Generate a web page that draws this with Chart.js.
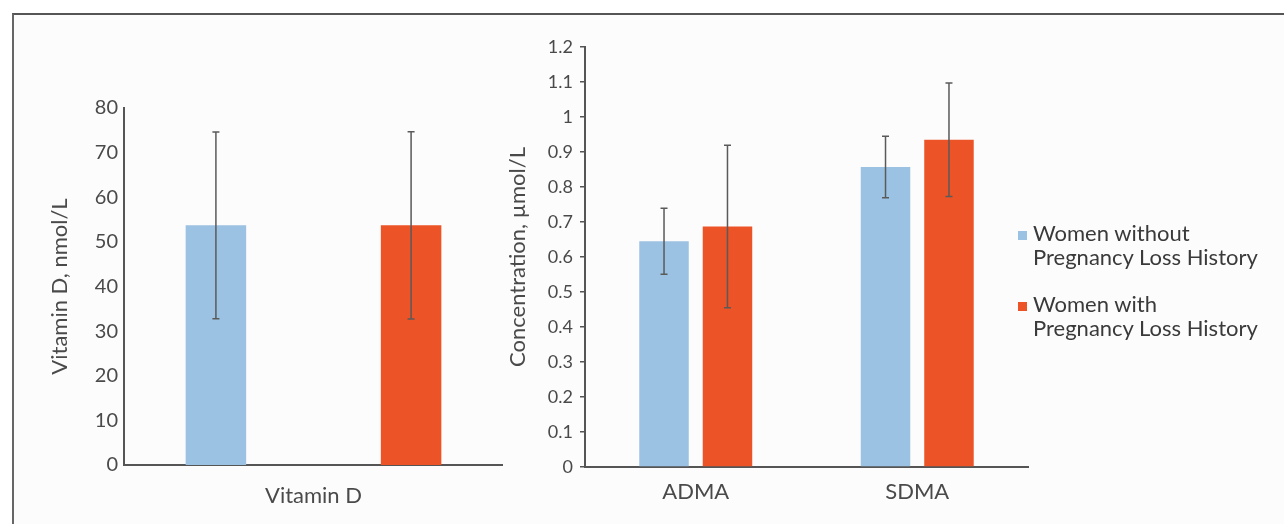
<!DOCTYPE html>
<html>
<head>
<meta charset="utf-8">
<script src="https://cdn.jsdelivr.net/npm/chart.js@4"></script>
<style>
  html, body { margin: 0; padding: 0; background: #fff; }
  body { width: 1284px; height: 524px; position: relative; overflow: hidden; font-family: Lato, sans-serif; }
  .frame { position: absolute; left: 12px; top: 13px; width: 1300px; height: 540px;
           border-top: 2px solid #555; border-left: 2px solid #666; background: #fcfcfc; }
  canvas { position: absolute; top: 0; }
  #vitd { left: 0; }
  #markers { left: 500px; }
  .legend { position: absolute; left: 1018px; color: #3a3a3a; font-size: 22px; line-height: 24px; }
  .legend .item { position: absolute; left: 0; white-space: nowrap; }
  .legend .box { position: absolute; left: 0; top: 10px; width: 9px; height: 9px; }
  .legend .txt { position: absolute; left: 15px; top: 0; }
</style>
</head>
<body>
<div class="frame"></div>
<canvas id="vitd" width="503" height="524"></canvas>
<canvas id="markers" width="540" height="524"></canvas>
<div class="legend" id="legend"></div>
<script>
// series
const seriesNames = [['Women without', 'Pregnancy Loss History'], ['Women with', 'Pregnancy Loss History']];
const seriesColors = ['#9cc2e3', '#ec5427'];

// left panel: vitamin D, nmol/L
const vitdLabels = ['Vitamin D'];
const vitdWithout = [53.7];
const vitdWithoutErr = [20.9];
const vitdWith = [53.7];
const vitdWithErr = [21.0];

// right panel: concentration, umol/L
const markerLabels = ['ADMA', 'SDMA'];
const markerWithout = [0.645, 0.857];
const markerWithoutErr = [0.094, 0.088];
const markerWith = [0.687, 0.935];
const markerWithErr = [0.232, 0.162];

const axisColor = '#555';
const textColor = '#4a4a4a';

// draws +/- error whiskers on every bar
const errorBars = {
  id: 'errorBars',
  afterDatasetsDraw(chart) {
    const ctx = chart.ctx;
    const y = chart.scales.y;
    ctx.save();
    ctx.strokeStyle = '#5a5a5a';
    ctx.lineWidth = 1.5;
    chart.data.datasets.forEach((ds, i) => {
      chart.getDatasetMeta(i).data.forEach((bar, j) => {
        const v = ds.data[j], e = ds.errors[j];
        const top = y.getPixelForValue(v + e);
        const bot = y.getPixelForValue(v - e);
        ctx.beginPath();
        ctx.moveTo(bar.x, top); ctx.lineTo(bar.x, bot);
        ctx.moveTo(bar.x - 3.5, top); ctx.lineTo(bar.x + 3.5, top);
        ctx.moveTo(bar.x - 3.5, bot); ctx.lineTo(bar.x + 3.5, bot);
        ctx.stroke();
      });
    });
    ctx.restore();
  }
};

function makeDatasets(a, aErr, b, bErr, catPct, barPct) {
  return [
    { label: seriesNames[0].join(' '), data: a, errors: aErr, backgroundColor: seriesColors[0],
      categoryPercentage: catPct, barPercentage: barPct },
    { label: seriesNames[1].join(' '), data: b, errors: bErr, backgroundColor: seriesColors[1],
      categoryPercentage: catPct, barPercentage: barPct }
  ];
}

new Chart(document.getElementById('vitd'), {
  type: 'bar',
  data: { labels: vitdLabels, datasets: makeDatasets(vitdWithout, vitdWithoutErr, vitdWith, vitdWithErr, 1.03, 0.31) },
  options: {
    responsive: false,
    animation: false,
    layout: { padding: { top: 108, left: 0, right: 0, bottom: 0 } },
    plugins: { legend: { display: false }, tooltip: { enabled: false } },
    scales: {
      x: {
        grid: { display: false, drawTicks: false },
        border: { color: axisColor, width: 2 },
        ticks: { color: textColor, font: { family: 'Lato', size: 22 }, padding: 18 },
        afterFit(s) { s.height = 59; }
      },
      y: {
        min: 0, max: 80,
        grid: { display: false, drawTicks: false },
        border: { color: axisColor, width: 2 },
        ticks: { stepSize: 10, color: textColor, font: { family: 'Lato', size: 20 }, padding: 6 },
        title: { display: true, text: 'Vitamin D, nmol/L', color: textColor,
                 font: { family: 'Lato', size: 22 }, padding: { top: 47, bottom: 0 } },
        afterFit(s) { s.width = 124; }
      }
    }
  },
  plugins: [errorBars]
});

new Chart(document.getElementById('markers'), {
  type: 'bar',
  data: { labels: markerLabels, datasets: makeDatasets(markerWithout, markerWithoutErr, markerWith, markerWithErr, 0.573, 0.78) },
  options: {
    responsive: false,
    animation: false,
    layout: { padding: { top: 47, left: 0, right: 12, bottom: 0 } },
    plugins: { legend: { display: false }, tooltip: { enabled: false } },
    scales: {
      x: {
        grid: { display: false, drawTicks: false },
        border: { color: axisColor, width: 2 },
        ticks: { color: textColor, font: { family: 'Lato', size: 22 }, padding: 12 },
        afterFit(s) { s.height = 57; }
      },
      y: {
        min: 0, max: 1.2,
        grid: { display: true, drawOnChartArea: false, drawTicks: true, tickLength: 5, color: axisColor, lineWidth: 1.5 },
        border: { color: axisColor, width: 2 },
        ticks: { stepSize: 0.1, color: textColor, font: { family: 'Lato', size: 18 }, padding: 7,
                 callback: v => String(Number(v.toFixed(1))) },
        title: { display: true, text: 'Concentration, µmol/L', color: textColor,
                 font: { family: 'Lato', size: 22 }, padding: { top: 5, bottom: 0 } },
        afterFit(s) { s.width = 85; }
      }
    }
  },
  plugins: [errorBars]
});

// legend on the right, two-line labels
const legend = document.getElementById('legend');
const itemTops = [221, 292];
seriesNames.forEach((lines, i) => {
  const item = document.createElement('div');
  item.className = 'item';
  item.style.top = itemTops[i] + 'px';
  const box = document.createElement('div');
  box.className = 'box';
  box.style.background = seriesColors[i];
  const txt = document.createElement('div');
  txt.className = 'txt';
  txt.innerHTML = lines.join('<br>');
  item.appendChild(box);
  item.appendChild(txt);
  legend.appendChild(item);
});
</script>
</body>
</html>
